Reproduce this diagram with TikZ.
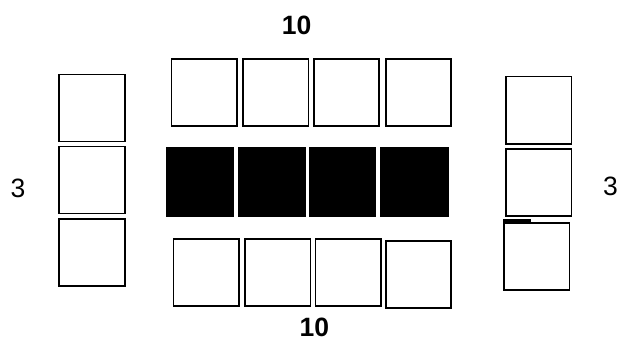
\documentclass[tikz,border=0pt]{standalone}
\usepackage{fontspec}
\setmainfont{Liberation Sans}
\begin{document}
\begin{tikzpicture}[x=1pt,y=-1pt,
  cell/.style={draw=black,line width=1.6pt,fill=white,rectangle,inner sep=0pt,minimum width=65.5pt,minimum height=67pt},
  blk/.style={fill=black,rectangle,inner sep=0pt,minimum width=68pt,minimum height=70.3pt},
  numb/.style={inner sep=0pt,font=\fontsize{26.5}{30}\selectfont\bfseries},
  numr/.style={inner sep=0pt,font=\fontsize{26.5}{30}\selectfont}]
\useasboundingbox[fill=white] (0,0) rectangle (617,342);
% left column
\node[cell] (l1) at (92,108) {};
\node[cell] (l2) at (92,180) {};
\node[cell] (l3) at (92,252.5) {};
% top row
\node[cell] (t1) at (204.2,92.3) {};
\node[cell] (t2) at (275.8,92.3) {};
\node[cell] (t3) at (346.5,92.3) {};
\node[cell] (t4) at (418.5,92.3) {};
% black row
\node[blk] (b1) at (200.3,182.2) {};
\node[blk,minimum width=67.7pt] (b2) at (272.2,182.2) {};
\node[blk,minimum width=67.6pt] (b3) at (342.5,182.2) {};
\node[blk,minimum width=68.4pt] (b4) at (414.5,182.2) {};
% bottom row
\node[cell] (u1) at (206.2,272.7) {};
\node[cell] (u2) at (277.8,272.7) {};
\node[cell] (u3) at (348.3,272.7) {};
\node[cell] (u4) at (418.5,274.5) {};
% right column
\node[cell] (r1) at (538.8,110.2) {};
\node[cell] (r2) at (538.8,182.3) {};
\node[cell] (r3) at (536.7,256.2) {};
\fill[black] (503.3,219.3) rectangle (530.7,222.6);
% labels
\node[numb] (top) at (296.7,25) {10};
\node[numb] (bot) at (314.3,327.5) {10};
\node[numr] (lft) at (18,188) {3};
\node[numr] (rgt) at (610.5,186) {3};
\end{tikzpicture}
\end{document}
